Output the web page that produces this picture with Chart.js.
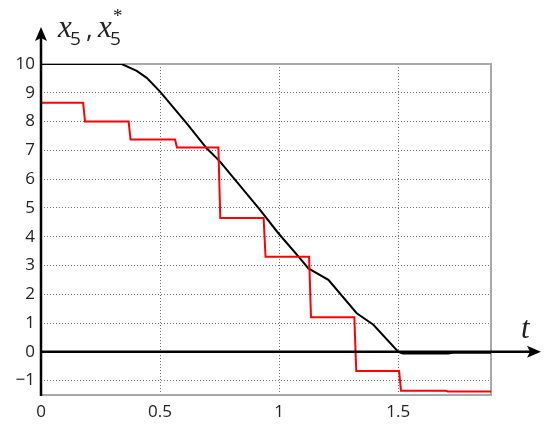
<!DOCTYPE html>
<html>
<head>
<meta charset="utf-8">
<script src="https://cdn.jsdelivr.net/npm/chart.js@4.4.1/dist/chart.umd.min.js"></script>
<style>
  html, body { margin: 0; padding: 0; background: #fff; }
  #wrap { width: 550px; height: 431px; position: relative; }
</style>
</head>
<body>
<div id="wrap"><canvas id="c"></canvas></div>
<script>
// black curve x5(t)
const blackT = [0, 0.339, 0.402, 0.444, 0.5, 0.612, 0.696, 0.752, 0.92, 0.997, 1.088, 1.123, 1.207, 1.326, 1.396, 1.501, 1.52, 1.71, 1.73, 1.89];
const blackX = [10, 10, 9.76, 9.52, 9.04, 7.94, 7.07, 6.61, 4.93, 4.12, 3.25, 2.9, 2.5, 1.34, 0.94, 0, -0.06, -0.06, -0.03, -0.03];

// red piecewise constant x5*(t): switch times and levels
const stepT = [0, 0.177, 0.368, 0.563, 0.745, 0.935, 1.126, 1.316, 1.504, 1.70, 1.89];
const stepLevel = [8.65, 8.0, 7.38, 7.1, 4.65, 3.3, 1.2, -0.67, -1.35, -1.38];

const yTicks = [-1, 0, 1, 2, 3, 4, 5, 6, 7, 8, 9, 10];
const xTicks = [0, 0.5, 1, 1.5];

const blackPts = blackT.map((t, i) => ({ x: t, y: blackX[i] }));

// vertical jumps in the picture are a little slanted
const slant = 0.008;
const redPts = [];
stepLevel.forEach((v, i) => {
  redPts.push({ x: i === 0 ? stepT[0] : stepT[i] + slant, y: v });
  redPts.push({ x: stepT[i + 1], y: v });
});

const tickFont = { family: '"Open Sans", sans-serif', size: 17 };

const decor = {
  id: 'decor',
  beforeDatasetsDraw(chart) {
    const { ctx, chartArea: a } = chart;
    ctx.save();
    ctx.strokeStyle = '#a8a8a8';
    ctx.lineWidth = 2;
    ctx.strokeRect(a.left, a.top, a.right - a.left, a.bottom - a.top);
    ctx.restore();
  },
  afterDatasetsDraw(chart) {
    const { ctx, chartArea: a, scales } = chart;
    const x0 = scales.x.getPixelForValue(0);
    const y0 = scales.y.getPixelForValue(0);
    ctx.save();
    ctx.strokeStyle = '#000';
    ctx.fillStyle = '#000';
    ctx.lineWidth = 2.5;
    // x axis
    ctx.beginPath();
    ctx.moveTo(x0, y0);
    ctx.lineTo(536, y0);
    ctx.stroke();
    ctx.beginPath();
    ctx.moveTo(541, y0);
    ctx.lineTo(527, y0 - 6);
    ctx.lineTo(530, y0);
    ctx.lineTo(527, y0 + 6);
    ctx.closePath();
    ctx.fill();
    // y axis
    ctx.beginPath();
    ctx.moveTo(x0, a.bottom + 1);
    ctx.lineTo(x0, 33);
    ctx.stroke();
    ctx.beginPath();
    ctx.moveTo(x0, 27);
    ctx.lineTo(x0 - 6, 41);
    ctx.lineTo(x0, 38);
    ctx.lineTo(x0 + 6, 41);
    ctx.closePath();
    ctx.fill();

    // axis names
    ctx.fillStyle = '#222';
    ctx.textBaseline = 'alphabetic';
    ctx.textAlign = 'left';
    ctx.font = 'italic 31px "Liberation Serif", serif';
    ctx.fillText('x', 58, 37);
    ctx.fillText('x', 98, 37);
    ctx.fillText('t', 521, 338);
    ctx.font = '19px "Open Sans", sans-serif';
    ctx.fillText('5', 70, 45);
    ctx.fillText('5', 110, 45);
    ctx.font = '26px "Open Sans", sans-serif';
    ctx.fillText(',', 86, 38);
    ctx.font = '19px "Liberation Serif", serif';
    ctx.fillText('*', 113, 22);
    ctx.restore();
  }
};

new Chart(document.getElementById('c'), {
  type: 'scatter',
  data: {
    datasets: [
      {
        label: 'x5*',
        data: redPts,
        showLine: true,
        borderColor: '#ff0000',
        borderWidth: 2,
        pointRadius: 0,
        tension: 0
      },
      {
        label: 'x5',
        data: blackPts,
        showLine: true,
        borderColor: '#000',
        borderWidth: 2,
        pointRadius: 0,
        tension: 0
      }
    ]
  },
  options: {
    responsive: true,
    maintainAspectRatio: false,
    animation: false,
    layout: { padding: { top: 64, right: 59, left: 0, bottom: 0 } },
    plugins: { legend: { display: false }, tooltip: { enabled: false } },
    scales: {
      x: {
        type: 'linear',
        min: 0,
        max: 1.89,
        afterFit(s) { s.height = 36; },
        afterBuildTicks(s) { s.ticks = xTicks.map(v => ({ value: v })); },
        ticks: {
          font: tickFont,
          color: '#222',
          padding: 7,
          maxRotation: 0,
          callback: v => String(v)
        },
        grid: { color: '#707070', lineWidth: 1, drawTicks: false },
        border: { display: false, dash: [1, 2] }
      },
      y: {
        type: 'linear',
        min: -1.5,
        max: 10,
        afterFit(s) { s.width = 41; },
        afterBuildTicks(s) { s.ticks = yTicks.map(v => ({ value: v })); },
        ticks: {
          font: tickFont,
          color: '#222',
          padding: 6,
          callback: v => (v < 0 ? '\u2212' + Math.abs(v) : String(v))
        },
        grid: { color: '#707070', lineWidth: 1, drawTicks: false },
        border: { display: false, dash: [1, 2] }
      }
    }
  },
  plugins: [decor]
});
</script>
</body>
</html>
